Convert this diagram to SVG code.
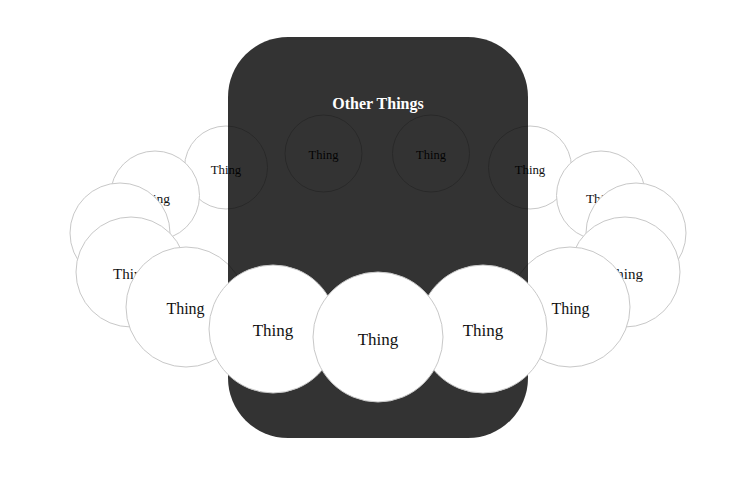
<svg xmlns="http://www.w3.org/2000/svg" width="756" height="479" viewBox="0 0 756 479">
<style>
.c{fill:#fff;stroke:#c8c8c8;stroke-width:1}
.t{font-family:"Liberation Serif","Times New Roman",serif;fill:#111;text-anchor:middle}
.panel{fill:#000;fill-opacity:0.8}
.title{font-family:"Liberation Serif","Times New Roman",serif;font-weight:bold;font-size:16px;fill:#fff;text-anchor:middle}
</style>
<rect width="756" height="479" fill="#fff"/>
<g id="rear-left"><circle class="c" cx="323.5" cy="153.5" r="38.5"/><text class="t" x="323.5" y="159" font-size="12.5">Thing</text></g>
<g id="rear-right"><circle class="c" cx="431" cy="153.5" r="38.5"/><text class="t" x="431" y="159" font-size="12.5">Thing</text></g>
<g id="a-left"><circle class="c" cx="226" cy="167.5" r="41.5"/><text class="t" x="226" y="173.5" font-size="12.8">Thing</text></g>
<g id="a-right"><circle class="c" cx="530" cy="167.5" r="41.5"/><text class="t" x="530" y="173.5" font-size="12.8">Thing</text></g>
<g id="b-left"><circle class="c" cx="155" cy="195.5" r="44.5"/><text class="t" x="154" y="202.5" font-size="13.5">Thing</text></g>
<g id="b-right"><circle class="c" cx="601" cy="195.5" r="44.5"/><text class="t" x="602" y="202.5" font-size="13.5">Thing</text></g>
<g id="c-left"><circle class="c" cx="120" cy="233" r="50"/><text class="t" x="120" y="240" font-size="14">Thing</text></g>
<g id="c-right"><circle class="c" cx="636" cy="233" r="50"/><text class="t" x="636" y="240" font-size="14">Thing</text></g>
<g id="d-left"><circle class="c" cx="131" cy="272" r="55"/><text class="t" x="131" y="278.5" font-size="15">Thing</text></g>
<g id="d-right"><circle class="c" cx="625" cy="272" r="55"/><text class="t" x="625" y="278.5" font-size="15">Thing</text></g>
<g id="e-left"><circle class="c" cx="186" cy="307" r="60"/><text class="t" x="185.5" y="313.5" font-size="16">Thing</text></g>
<g id="e-right"><circle class="c" cx="570" cy="307" r="60"/><text class="t" x="570.5" y="313.5" font-size="16">Thing</text></g>
<g id="other-things"><rect class="panel" x="228" y="37" width="300" height="401" rx="60" ry="60"/><text class="title" x="378" y="109">Other Things</text></g>
<g id="f-left"><circle class="c" cx="273" cy="329" r="64"/><text class="t" x="273" y="336" font-size="17">Thing</text></g>
<g id="f-right"><circle class="c" cx="483" cy="329" r="64"/><text class="t" x="483" y="336" font-size="17">Thing</text></g>
<g id="g-center"><circle class="c" cx="378" cy="337" r="65"/><text class="t" x="378" y="345" font-size="17">Thing</text></g>
</svg>
